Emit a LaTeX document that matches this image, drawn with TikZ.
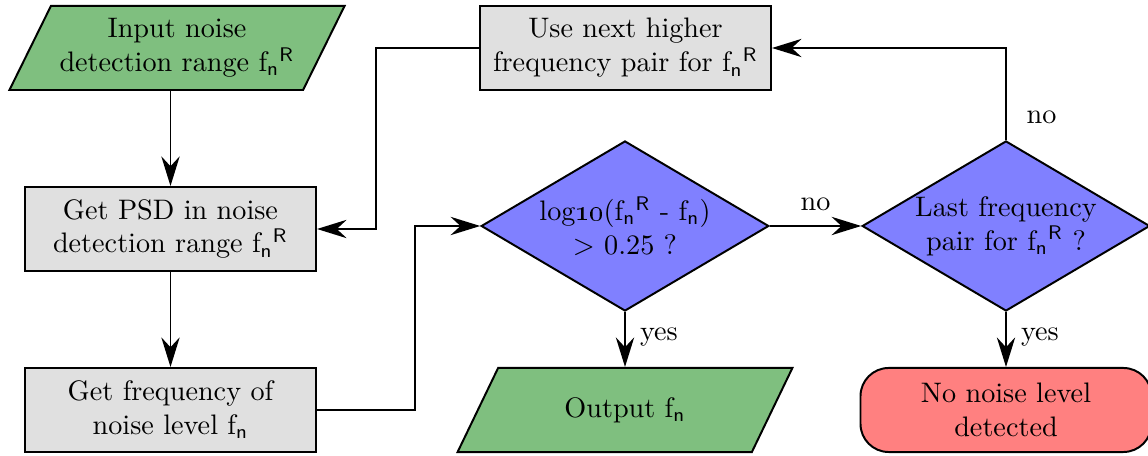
\documentclass[tikz,border=0pt]{standalone}
\usetikzlibrary{shapes.geometric,arrows.meta}

\definecolor{ioGreen}{RGB}{127,191,127}
\definecolor{procGray}{RGB}{224,224,224}
\definecolor{decBlue}{RGB}{128,128,255}
\definecolor{endRed}{RGB}{255,128,128}

% frequency symbols with sans-serif indices
\newcommand{\fnR}{f\textsubscript{\sffamily n}\textsuperscript{\sffamily R}}
\newcommand{\fsubn}{f\textsubscript{\sffamily n}}

\begin{document}
\begin{tikzpicture}[
  x=0.3546pt, y=-0.3546pt,
  base/.style={draw, line width=0.7pt, align=center, inner sep=2pt},
  io/.style={base, trapezium, trapezium left angle=60, trapezium right angle=120,
    trapezium stretches=true, fill=ioGreen, minimum width=119pt, minimum height=29.8pt},
  proc/.style={base, rectangle, fill=procGray, minimum width=103.2pt, minimum height=29.8pt},
  decision/.style={base, diamond, aspect=1.7, fill=decBlue, inner sep=0pt,
    minimum width=102pt, minimum height=60.3pt},
  stopbox/.style={base, rectangle, rounded corners=10pt, fill=endRed,
    minimum width=103.2pt, minimum height=29.8pt},
  flow/.style={line width=0.7pt, -{Stealth[length=10.5pt,width=6.5pt,inset=3.5pt]}},
  lbl/.style={inner sep=2pt}
]
\useasboundingbox (0,0) rectangle (1148,456);

% nodes
\node[io]       (inp)  at (177,48)   {Input noise\\detection range \fnR};
\node[proc]     (psd)  at (170.5,229) {Get PSD in noise\\detection range \fnR};
\node[proc]     (gf)   at (170.5,410) {Get frequency of\\noise level \fsubn};
\node[proc]     (use)  at (625.5,48)  {Use next higher\\frequency pair for \fnR};
\node[decision] (d1)   at (625,226)   {log\oldstylenums{10}(\fnR{} - \fsubn)\\$>$ 0.25 ?};
\node[decision] (d2)   at (1006,226)  {Last frequency\\pair for \fnR{} ?};
\node[io]       (out)  at (625,410)   {Output \fsubn};
\node[stopbox]  (none) at (1006,410)  {No noise level\\detected};

% connectors
\draw[flow] (inp.south -| psd.north) -- (psd.north);
\draw[flow] (psd.south) -- (gf.north);
\draw[flow] (gf.east) -- ++(98,0) |- (d1.west);
\draw[flow] (d1.east) -- node[lbl, above=3pt] {no} (d2.west);
\draw[flow] (d1.south) -- node[lbl, right=3pt, pos=0.45] {yes} (out.north);
\draw[flow] (d2.south) -- node[lbl, right=3pt, pos=0.45] {yes} (none.north);
\draw[flow] (d2.north) -- node[lbl, right=5pt, pos=0.25] {no} (d2.north |- use.east) -- (use.east);
\draw[flow] (use.west) -- ++(-103,0) |- (psd.east);
\end{tikzpicture}
\end{document}
